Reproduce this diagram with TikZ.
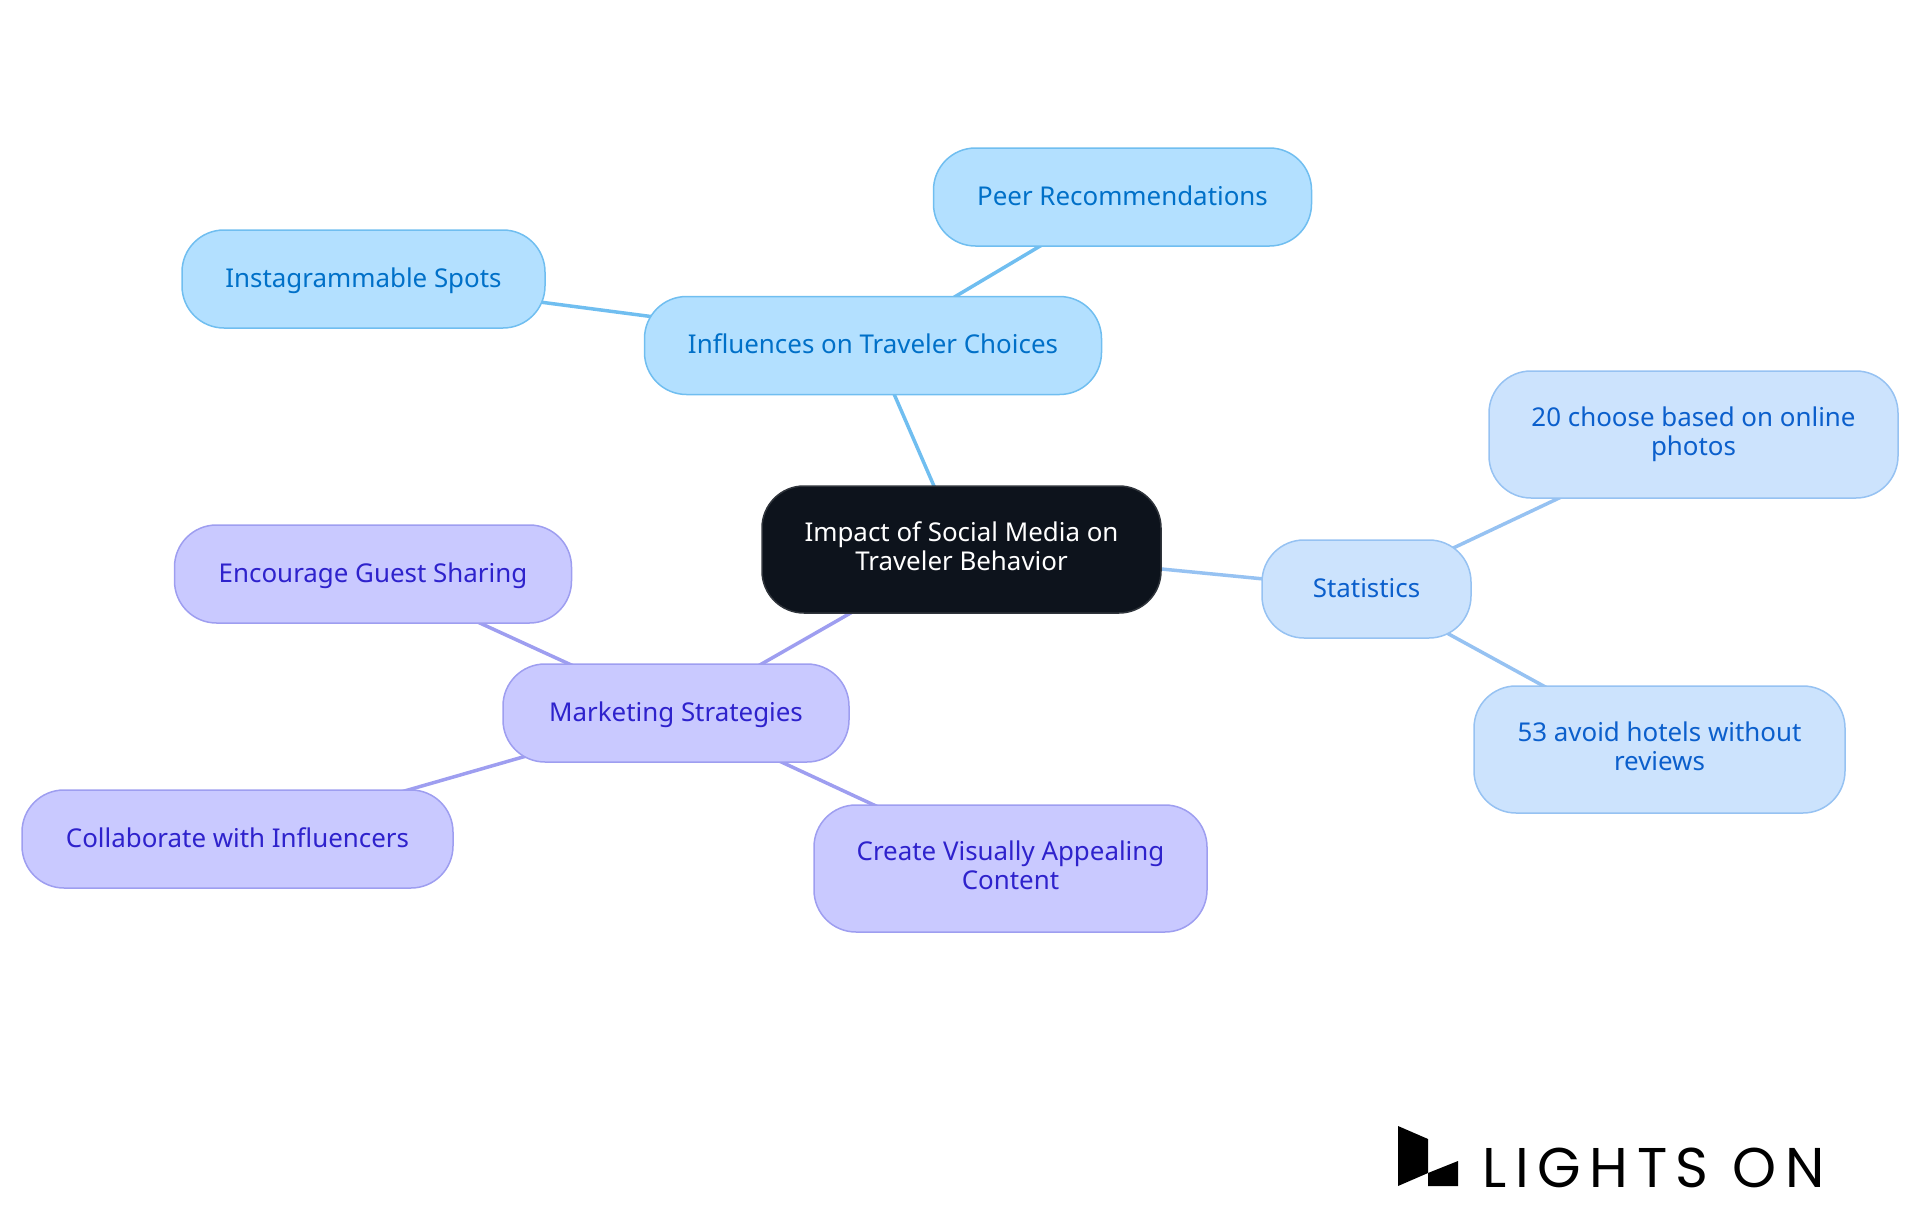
\documentclass[tikz,border=0pt]{standalone}
\usepackage{fontspec}
\setmainfont{Noto Sans}
\newfontfamily\logofont[LetterSpace=15.4]{Poppins}
\usetikzlibrary{backgrounds}
\definecolor{rootfill}{HTML}{0D131C}
\definecolor{rootline}{HTML}{2F343B}
\definecolor{skyfill}{HTML}{B3E0FF}
\definecolor{skyline}{HTML}{70BEF0}
\definecolor{skytext}{HTML}{0070C8}
\definecolor{palefill}{HTML}{CCE3FD}
\definecolor{paleline}{HTML}{96C2F2}
\definecolor{paletext}{HTML}{0B5FCC}
\definecolor{violetfill}{HTML}{C9C9FF}
\definecolor{violetline}{HTML}{9E9EF0}
\definecolor{violettext}{HTML}{2E22CC}
\newcommand{\nodeline}{1.5pt}
\newcommand{\linkline}{3.5pt}
\newcommand{\linestrut}{\rule[-6.3pt]{0pt}{29.4pt}}
\tikzset{
  mapnode/.style={rounded corners=42pt, line width=\nodeline, inner sep=0pt, align=center, font=\fontsize{25.9}{29.4}\selectfont, execute at begin node=\linestrut, execute at end node=\linestrut},
  rootnode/.style={mapnode, fill=rootfill, draw=rootline, text=white},
  skynode/.style={mapnode, fill=skyfill, draw=skyline, text=skytext},
  palenode/.style={mapnode, fill=palefill, draw=paleline, text=paletext},
  violetnode/.style={mapnode, fill=violetfill, draw=violetline, text=violettext},
}

\begin{document}
\begin{tikzpicture}[x=1pt,y=-1pt]
\useasboundingbox (0,0) rectangle (1920,1215);
%root
\node[rootnode, minimum width=399pt, minimum height=127pt] (root) at (961.5, 549.5) {Impact of Social Media on\\Traveler Behavior};
%influences
\node[skynode, minimum width=457pt, minimum height=98pt] (choices) at (873, 345.5) {Influences on Traveler Choices};
\node[skynode, minimum width=378pt, minimum height=98pt] (peer) at (1122.5, 197) {Peer Recommendations};
\node[skynode, minimum width=363pt, minimum height=98pt] (spots) at (363.5, 279) {Instagrammable Spots};
%statistics
\node[palenode, minimum width=209pt, minimum height=98pt] (stats) at (1366.5, 589) {Statistics};
\node[palenode, minimum width=409pt, minimum height=127pt] (photos) at (1693.5, 434.5) {20 choose based on online\\photos};
\node[palenode, minimum width=371pt, minimum height=127pt] (reviews) at (1659.5, 749.5) {53 avoid hotels without\\reviews};
%marketing
\node[violetnode, minimum width=346pt, minimum height=98pt] (market) at (676, 713) {Marketing Strategies};
\node[violetnode, minimum width=397pt, minimum height=98pt] (sharing) at (373, 574) {Encourage Guest Sharing};
\node[violetnode, minimum width=431pt, minimum height=98pt] (collab) at (237.5, 839) {Collaborate with Influencers};
\node[violetnode, minimum width=393pt, minimum height=127pt] (content) at (1010.5, 868.5) {Create Visually Appealing\\Content};
%links
\begin{scope}[on background layer]
\draw[skyline, line width=\linkline] (root.center) -- (choices.center);
\draw[skyline, line width=\linkline] (choices.center) -- (peer.center);
\draw[skyline, line width=\linkline] (choices.center) -- (spots.center);
\draw[paleline, line width=\linkline] (root.center) -- (stats.center);
\draw[paleline, line width=\linkline] (stats.center) -- (photos.center);
\draw[paleline, line width=\linkline] (stats.center) -- (reviews.center);
\draw[violetline, line width=\linkline] (root.center) -- (market.center);
\draw[violetline, line width=\linkline] (market.center) -- (sharing.center);
\draw[violetline, line width=\linkline] (market.center) -- (collab.center);
\draw[violetline, line width=\linkline] (market.center) -- (content.center);
\end{scope}
%logo
\fill[black] (1398,1126) -- (1428,1139) -- (1428,1173) -- (1398,1186) -- cycle;
\fill[black] (1428,1173) -- (1458,1161) -- (1458,1186) -- (1428,1186) -- cycle;
\node[anchor=base west, inner sep=0pt, font=\logofont\fontsize{56}{56}\selectfont] (logo) at (1482,1187) {LIGHTS ON};
\end{tikzpicture}
\end{document}
